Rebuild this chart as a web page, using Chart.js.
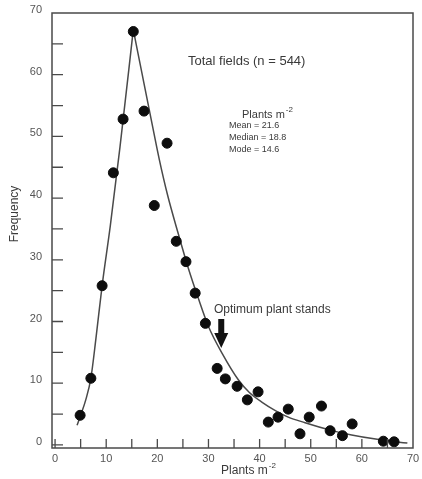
<!DOCTYPE html>
<html>
<head>
<meta charset="utf-8">
<script src="https://cdn.jsdelivr.net/npm/chart.js@4"></script>
<style>
  body { margin: 0; background: #fff; }
  #wrap { width: 422px; height: 479px; }
</style>
</head>
<body>
<div id="wrap"><canvas id="plantChart"></canvas></div>
<script>
// observed frequencies (dots)
const plantsX = [4.9, 7.0, 9.2, 11.4, 13.3, 15.3, 17.4, 19.4, 21.9, 23.7, 25.6, 27.4, 29.4, 31.7, 33.3,
                 35.6, 37.6, 39.7, 41.7, 43.6, 45.6, 47.9, 49.7, 52.1, 53.8, 56.2, 58.1, 64.2, 66.3];
const freqY = [4.8, 10.8, 25.8, 44.1, 52.8, 67.0, 54.1, 38.8, 48.9, 33.0, 29.7, 24.6, 19.7, 12.4, 10.7,
               9.5, 7.3, 8.6, 3.7, 4.5, 5.8, 1.8, 4.5, 6.3, 2.3, 1.5, 3.4, 0.6, 0.5];

// fitted curve, rising and falling limbs
const riseX = [4.3, 5, 6, 7, 8, 9.2, 10.8, 12.7, 15.3];
const riseY = [3.2, 4.8, 7.3, 10.8, 17.3, 25.8, 35.5, 48.3, 67.3];
const fallX = [15.3, 17, 19, 20.4, 22, 24, 26, 28, 30, 32.7, 35.8, 38, 40.5, 43, 45.6, 48.9, 53.8, 58, 63, 68.9];
const fallY = [67.3, 60.2, 51.9, 46.2, 40.5, 34.5, 28.8, 23.8, 19.2, 14.8, 10.6, 8.5, 6.9, 5.6, 4.5, 3.6, 2.4, 1.6, 0.9, 0.3];

// axis ticks
const xTickLabels = [0, 10, 20, 30, 40, 50, 60, 70];
const yTickLabels = [0, 10, 20, 30, 40, 50, 60, 70];
const xMinorTicks = [0, 5, 10, 15, 20, 25, 30, 35, 40, 45, 50, 55, 60, 65];
const yMinorTicks = [0, 5, 10, 15, 20, 25, 30, 35, 40, 45, 50, 55, 60, 65];

// arrow "Optimum plant stands"
const arrowX = 32.5;
const arrowFromY = 20.4;
const arrowToY = 15.7;

const toPts = (xs, ys) => xs.map((v, i) => ({ x: v, y: ys[i] }));
const FONT = "'Liberation Sans', Arial, sans-serif";
const INK = "#3a3a3a";

function supText(ctx, base, sup, x, y, size, align) {
    ctx.font = size + "px " + FONT;
    const w1 = ctx.measureText(base).width;
    ctx.font = Math.round(size * 0.7) + "px " + FONT;
    const w2 = ctx.measureText(sup).width;
    let left = x;
    if (align === "center") left = x - (w1 + w2) / 2;
    ctx.textAlign = "left";
    ctx.font = size + "px " + FONT;
    ctx.fillText(base, left, y);
    ctx.font = Math.round(size * 0.7) + "px " + FONT;
    ctx.fillText(sup, left + w1 + 1, y - size * 0.45);
}

const overlay = {
    id: "overlay",
    afterDraw(chart) {
        const { ctx, chartArea: a, scales: { x, y } } = chart;
        ctx.save();

        // frame
        ctx.strokeStyle = "#4a4a4a";
        ctx.lineWidth = 1.5;
        ctx.strokeRect(a.left, a.top, a.right - a.left, a.bottom - a.top);

        // inward ticks
        ctx.lineWidth = 1.3;
        ctx.beginPath();
        yMinorTicks.forEach(v => {
            const py = y.getPixelForValue(v);
            ctx.moveTo(a.left, py);
            ctx.lineTo(a.left + 11, py);
        });
        xMinorTicks.forEach(v => {
            const px = x.getPixelForValue(v);
            ctx.moveTo(px, a.bottom);
            ctx.lineTo(px, a.bottom - 9);
        });
        ctx.stroke();

        ctx.fillStyle = INK;
        ctx.textBaseline = "middle";

        ctx.font = "13px " + FONT;
        ctx.textAlign = "left";
        ctx.fillText("Total fields (n = 544)", 188, 61);

        supText(ctx, "Plants m", "-2", 242, 115, 11, "left");
        ctx.font = "9px " + FONT;
        ctx.textAlign = "left";
        ctx.fillText("Mean = 21.6", 229, 126);
        ctx.fillText("Median = 18.8", 229, 138);
        ctx.fillText("Mode = 14.6", 229, 150);

        ctx.font = "12px " + FONT;
        ctx.fillText("Optimum plant stands", 214, 310);

        // arrow
        const ax = x.getPixelForValue(arrowX);
        const ay0 = y.getPixelForValue(arrowFromY);
        const ay1 = y.getPixelForValue(arrowToY);
        ctx.fillStyle = "#111";
        ctx.beginPath();
        ctx.moveTo(ax - 3, ay0);
        ctx.lineTo(ax + 3, ay0);
        ctx.lineTo(ax + 3, ay1 - 15);
        ctx.lineTo(ax + 7, ay1 - 15);
        ctx.lineTo(ax, ay1);
        ctx.lineTo(ax - 7, ay1 - 15);
        ctx.lineTo(ax - 3, ay1 - 15);
        ctx.closePath();
        ctx.fill();

        // axis titles
        ctx.fillStyle = INK;
        supText(ctx, "Plants m", "-2", 248, 471, 12, "center");

        ctx.translate(15, 214);
        ctx.rotate(-Math.PI / 2);
        ctx.font = "12px " + FONT;
        ctx.textAlign = "center";
        ctx.fillText("Frequency", 0, 0);

        ctx.restore();
    }
};

const ctx = document.getElementById("plantChart").getContext("2d");

new Chart(ctx, {
    type: "scatter",
    data: {
        datasets: [
            {
                label: "Fields",
                data: toPts(plantsX, freqY),
                backgroundColor: "#0d0d0d",
                borderColor: "#0d0d0d",
                pointRadius: 5,
                showLine: false
            },
            {
                label: "Fit rising",
                data: toPts(riseX, riseY),
                showLine: true,
                borderColor: "#4a4a4a",
                borderWidth: 1.5,
                pointRadius: 0,
                cubicInterpolationMode: "monotone"
            },
            {
                label: "Fit falling",
                data: toPts(fallX, fallY),
                showLine: true,
                borderColor: "#4a4a4a",
                borderWidth: 1.5,
                pointRadius: 0,
                cubicInterpolationMode: "monotone"
            }
        ]
    },
    options: {
        responsive: true,
        maintainAspectRatio: false,
        animation: false,
        layout: { padding: { top: 13, right: 9, left: 0, bottom: 0 } },
        plugins: { legend: { display: false }, tooltip: { enabled: false } },
        scales: {
            x: {
                min: -0.6,
                max: 70,
                afterBuildTicks: s => { s.ticks = xTickLabels.map(v => ({ value: v })); },
                afterFit: s => { s.height = 31; s.paddingLeft = 0; s.paddingRight = 0; },
                grid: { display: false, drawTicks: false, tickLength: 0 },
                border: { display: false },
                ticks: { color: "#555", font: { family: FONT, size: 11 }, padding: 4 }
            },
            y: {
                min: -0.5,
                max: 70,
                afterBuildTicks: s => { s.ticks = yTickLabels.map(v => ({ value: v })); },
                afterFit: s => { s.width = 52; s.paddingTop = 0; s.paddingBottom = 0; },
                grid: { display: false, drawTicks: false, tickLength: 0 },
                border: { display: false },
                ticks: { color: "#555", font: { family: FONT, size: 11 }, padding: 10, labelOffset: -3 }
            }
        }
    },
    plugins: [overlay]
});
</script>
</body>
</html>
